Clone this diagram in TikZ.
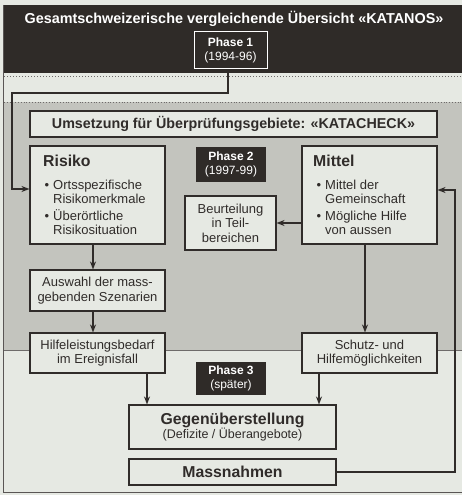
\documentclass[tikz,border=0pt]{standalone}
\usepackage{fontspec}
\setmainfont{Liberation Sans}
\usetikzlibrary{arrows.meta,calc}
\definecolor{paper}{HTML}{E6E9E3}
\definecolor{greyreg}{HTML}{C3C4BE}
\definecolor{band}{HTML}{2F2B28}
\definecolor{ink}{HTML}{302C2A}
\tikzset{
  boxx/.style={draw=ink, line width=1.1pt, fill=paper, inner sep=0pt, minimum width=#1},
  phasebox/.style={fill=band, text=white, inner sep=0pt, minimum width=70pt, align=center, font=\fontsize{12}{13.5}\selectfont},
  arr/.style={draw=ink, line width=1.4pt, -{Stealth[length=8pt,width=6pt]}},
  body/.style={font=\fontsize{13}{14.5}\selectfont, text=ink},
  big/.style={font=\fontsize{15.8}{18}\selectfont\bfseries, text=ink},
  ln/.style={body, anchor=base west, inner sep=0pt},
}
\begin{document}
\begin{tikzpicture}[x=1pt,y=-1pt]
\useasboundingbox (0,0) rectangle (462,495);
\fill[paper] (0,0) rectangle (462,495);
% frame
\draw[ink!80, line width=0.8pt] (3.5,5) -- (3.5,492) -- (462,492);
% top band
\fill[band] (4,5) rectangle (462,73);
\draw[ink!70, line width=1pt, dotted] (4,76) -- (462,76);
\node[font=\fontsize{14.4}{16}\selectfont\bfseries, text=white] (title) at (234,19) {Gesamtschweizerische vergleichende Übersicht «KATANOS»};
\node[draw=white, line width=1pt, text=white, minimum width=73pt, minimum height=37pt, align=center, inner sep=0pt, font=\fontsize{12}{13.5}\selectfont] (p1) at (230.5,50.5) {\textbf{Phase 1}\\(1994-96)};
% phase 2 region
\fill[greyreg] (4,102) rectangle (462,350);
\draw[ink!70, line width=0.8pt, dotted] (4,102) -- (462,102);
\draw[ink!70, line width=0.8pt] (4,350) -- (462,350);
% boxes
\node[boxx=407pt, minimum height=26pt, font=\fontsize{14.3}{16}\selectfont\bfseries, text=ink] (ums) at (233.5,124) {Umsetzung für Überprüfungsgebiete: «KATACHECK»};
% Risiko
\node[boxx=135pt, minimum height=98pt] (risiko) at (97.5,195) {};
\node[big, anchor=base west, inner sep=0pt] (risikot) at (43,166) {Risiko};
\node[ln] (rb1) at (44.5,189) {•};
\node[ln] (r1) at (53,189) {Ortsspezifische};
\node[ln] (r2) at (53,203.5) {Risikomerkmale};
\node[ln] (rb2) at (44.5,220) {•};
\node[ln] (r3) at (53,220) {Überörtliche};
\node[ln] (r4) at (53,234) {Risikosituation};
% Mittel
\node[boxx=135pt, minimum height=98pt] (mittel) at (369.5,195) {};
\node[big, anchor=base west, inner sep=0pt] (mittelt) at (313,166) {Mittel};
\node[ln] (mb1) at (316.5,189) {•};
\node[ln] (m1) at (325,189) {Mittel der};
\node[ln] (m2) at (325,203.5) {Gemeinschaft};
\node[ln] (mb2) at (316.5,220) {•};
\node[ln] (m3) at (325,220) {Mögliche Hilfe};
\node[ln] (m4) at (325,234) {von aussen};
% others
\node[phasebox, minimum height=35pt] (p2) at (231,164.5) {\textbf{Phase 2}\\(1997-99)};
\node[boxx=91pt, minimum height=54pt, body, align=center] (beur) at (230.5,223) {Beurteilung\\in Teil-\\bereichen};
\node[boxx=135pt, minimum height=41pt, body, align=center] (ausw) at (97.5,290.5) {Auswahl der mass-\\gebenden Szenarien};
\node[boxx=135pt, minimum height=40pt, body, align=center] (hilfe) at (97.5,353) {Hilfeleistungsbedarf\\im Ereignisfall};
\node[boxx=135pt, minimum height=40pt, body, align=center] (schutz) at (369.5,353) {Schutz- und\\Hilfemöglichkeiten};
\node[phasebox, minimum height=33pt] (p3) at (231,378.5) {\textbf{Phase 3}\\(später)};
\node[boxx=207pt, minimum height=44pt, align=center, text=ink] (gegen) at (232.5,427) {{\fontsize{15.8}{18}\selectfont\bfseries Gegenüberstellung}\\[-1pt]{\fontsize{12.5}{14}\selectfont (Defizite / Überangebote)}};
\node[boxx=207pt, minimum height=26pt, big] (mass) at (232.5,472) {Massnahmen};
% connectors
\coordinate (p1out) at (228,73);
\coordinate (lft) at (12,93);
\draw[arr] (p1out) |- (lft) |- ([yshift=6pt]risiko.west);
\draw[arr] (mittel.west |- beur.east) -- (beur.east);
\draw[arr] ([xshift=-4.5pt]risiko.south) -- ([xshift=-4.5pt]ausw.north);
\draw[arr] ([xshift=-4.5pt]ausw.south) -- ([xshift=-4.5pt]hilfe.north);
\draw[arr] ([xshift=-4.5pt]mittel.south) -- ([xshift=-4.5pt]schutz.north);
\draw[arr] ([xshift=49.5pt]hilfe.south) coordinate (h1) -- (h1 |- gegen.north);
\draw[arr] ([xshift=-50.5pt]schutz.south) coordinate (s1) -- (s1 |- gegen.north);
\coordinate (rgt) at (455,472);
\draw[arr] (mass.east) -- (rgt) |- ([yshift=5pt]mittel.east);
\end{tikzpicture}
\end{document}
